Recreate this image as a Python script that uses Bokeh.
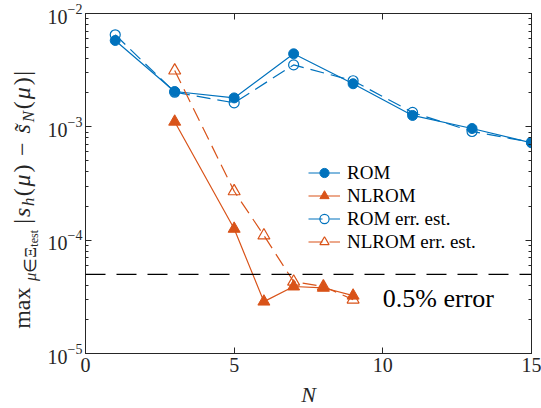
import math
from bokeh.plotting import figure
from bokeh.layouts import row, column
from bokeh.models import (LinearAxis, LogAxis, Label, Legend, LegendItem, Span,
                          FixedTicker, CustomJSTickFormatter, LogTicker)
from bokeh.embed import file_html
from bokeh.resources import INLINE

# ---------------- data ----------------
N_rom = [1, 3, 5, 7, 9, 11, 13, 15]
rom = [5.78e-3, 2.05e-3, 1.80e-3, 4.41e-3, 2.40e-3, 1.26e-3, 9.66e-4, 7.23e-4]
rom_est = [6.49e-3, 2.02e-3, 1.63e-3, 3.52e-3, 2.55e-3, 1.34e-3, 9.10e-4, 7.30e-4]
N_nl = [3, 5, 6, 7, 8, 9]
nlrom = [1.11e-3, 1.26e-4, 2.87e-5, 3.90e-5, 3.80e-5, 3.24e-5]
nlrom_est = [3.14e-3, 2.70e-4, 1.10e-4, 4.30e-5, 3.90e-5, 2.99e-5]
tol = 5e-5
tol_text = "0.5% error"
x_ticks = [0, 5, 10, 15]
legend_labels = ["ROM", "NLROM", "ROM err. est.", "NLROM err. est."]
x_label = "N"

BLUE = "#0072BD"
ORANGE = "#D95319"
AX = "#262626"
FONT = "Liberation Serif"

W, H = 541, 408
H_TOP = 380                     # height of the row holding the axes
LAB_W = 42                      # width of the strip holding the y-axis label
FL, FR, FT, FB = 85, 531, 13, 353   # frame geometry in page px

# ---------------- main figure ----------------
p = figure(width=W - LAB_W, height=H_TOP, x_range=(0, 15), y_range=(1e-5, 1e-2),
           y_axis_type="log", output_backend="svg", toolbar_location=None,
           min_border_left=FL - LAB_W, min_border_right=W - FR,
           min_border_top=FT, min_border_bottom=H_TOP - FB)
p.grid.visible = False
p.outline_line_color = AX
p.outline_line_width = 1
p.background_fill_color = "white"
p.border_fill_color = "white"

xa = p.xaxis[0]
ya = p.yaxis[0]
xa.ticker = FixedTicker(ticks=x_ticks)
ya.ticker = LogTicker(num_minor_ticks=10)
for ax in (xa, ya):
    ax.axis_line_color = AX
    ax.major_tick_line_color = AX
    ax.minor_tick_line_color = AX
    ax.major_tick_in = 6
    ax.major_tick_out = 0
    ax.minor_tick_in = 3
    ax.minor_tick_out = 0
    ax.major_label_text_font = FONT
    ax.major_label_text_font_size = "20px"
    ax.major_label_text_color = AX
xa.minor_tick_line_color = None
xa.major_label_standoff = 4
ya.major_label_standoff = 3

blank = CustomJSTickFormatter(code="return ''")
top = LinearAxis(ticker=FixedTicker(ticks=x_ticks), formatter=blank,
                 major_tick_in=6, major_tick_out=0, minor_tick_line_color=None,
                 axis_line_color=AX, major_tick_line_color=AX,
                 major_label_standoff=0, major_label_text_font_size="1px")
right = LogAxis(ticker=LogTicker(num_minor_ticks=10), formatter=blank,
                major_tick_in=6, major_tick_out=0, minor_tick_in=3, minor_tick_out=0,
                axis_line_color=AX, major_tick_line_color=AX, minor_tick_line_color=AX,
                major_label_standoff=0, major_label_text_font_size="1px")
p.add_layout(top, "above")
p.add_layout(right, "right")

p.add_layout(Span(location=tol, dimension="width", line_color="black",
                  line_dash="20 11", line_width=1.3))

LW = 1.2
r_rom_l = p.line(N_rom, rom, line_color=BLUE, line_width=LW)
r_rom_s = p.scatter(N_rom, rom, marker="circle", size=10, fill_color=BLUE, line_color=BLUE)
r_nl_l = p.line(N_nl, nlrom, line_color=ORANGE, line_width=LW)
r_nl_s = p.scatter(N_nl, nlrom, marker="triangle", size=12, fill_color=ORANGE, line_color=ORANGE)
r_re_l = p.line(N_rom, rom_est, line_color=BLUE, line_width=LW, line_dash="14 7")
r_re_s = p.scatter(N_rom, rom_est, marker="circle", size=10, fill_color=None,
                   line_color=BLUE, line_width=LW)
r_ne_l = p.line(N_nl, nlrom_est, line_color=ORANGE, line_width=LW, line_dash="14 7")
r_ne_s = p.scatter(N_nl, nlrom_est, marker="triangle", size=12, fill_color=None,
                   line_color=ORANGE, line_width=LW)

legend = Legend(items=[
    LegendItem(label=legend_labels[0], renderers=[r_rom_l, r_rom_s]),
    LegendItem(label=legend_labels[1], renderers=[r_nl_l, r_nl_s]),
    LegendItem(label=legend_labels[2], renderers=[r_re_l, r_re_s]),
    LegendItem(label=legend_labels[3], renderers=[r_ne_l, r_ne_s]),
], location=(308 - FL, FB - 253), label_text_font=FONT, label_text_font_size="19px",
   label_text_color="black", glyph_width=32, glyph_height=23, label_height=23,
   label_standoff=7, spacing=0, padding=0, margin=0, border_line_color=None,
   background_fill_alpha=0)
p.add_layout(legend)

p.add_layout(Label(x=10.0, y=3.05e-5, text=tol_text, text_font=FONT, text_font_size="26px",
                   text_color="black", text_baseline="middle", text_align="left"))


def strip(width, height):
    f = figure(width=width, height=height, x_range=(0, 1), y_range=(0, 1),
               x_axis_location=None, y_axis_location=None, output_backend="svg",
               toolbar_location=None, min_border=0)
    f.grid.visible = False
    f.outline_line_color = None
    f.background_fill_color = "white"
    f.border_fill_color = "white"
    return f


# ---------------- y-axis label strip ----------------
q = strip(LAB_W, H_TOP)
F = 24
XB = 30     # x of main baseline within the strip
MID = 0.34  # middle of the text box above the baseline, in em
DY = 41     # measured vertical correction of rotated labels
pieces = [  # (text, size scale, italic, baseline shift em, slot width em, gap after em)
    ("max", 1.0, False, 0.0, 1.861, 0.167),
    ("\u03bc", 0.7, True, 0.22, 0.422, 0.0),
    ("\u2208\u039e", 0.7, False, 0.22, 0.986, 0.0),
    ("test", 0.5, False, 0.30, 0.808, 0.167),
    ("|", 1.0, False, 0.0, 0.278, 0.0),
    ("s", 1.0, True, 0.0, 0.469, 0.0),
    ("h", 0.7, True, 0.15, 0.403, 0.0),
    ("(", 1.0, False, 0.0, 0.389, 0.0),
    ("\u03bc", 1.0, True, 0.0, 0.603, 0.0),
    (")", 1.0, False, 0.0, 0.389, 0.222),
    ("\u2212", 1.0, False, 0.0, 0.778, 0.222),
    ("s\u0303", 1.0, True, 0.0, 0.469, 0.0),
    ("N", 0.7, True, 0.15, 0.562, 0.0),
    ("(", 1.0, False, 0.0, 0.389, 0.0),
    ("\u03bc", 1.0, True, 0.0, 0.603, 0.0),
    (")", 1.0, False, 0.0, 0.389, 0.0),
    ("|", 1.0, False, 0.0, 0.278, 0.0),
]
ycur = 316.0
for txt, sc, it, sh, wd, gap in pieces:
    size = F * sc
    cy = ycur - wd * F / 2 + DY
    cx = XB + sh * F - MID * size
    q.add_layout(Label(x=cx, y=H_TOP - cy, x_units="screen", y_units="screen",
                       text=txt, angle=math.pi / 2, text_align="center",
                       text_baseline="middle", text_font=FONT,
                       text_font_style="italic" if it else "normal",
                       text_font_size=f"{size:.1f}px", text_color=AX))
    ycur -= (wd + gap) * F

# ---------------- x-axis label strip ----------------
b = strip(W, H - H_TOP)
b.add_layout(Label(x=308, y=2, x_units="screen", y_units="screen",
                   text=x_label, text_font=FONT, text_font_style="italic",
                   text_font_size="22px", text_color=AX, text_align="center",
                   text_baseline="bottom"))

layout = column(row(q, p, spacing=0), b, spacing=0)
open("out.html", "w").write(file_html(layout, INLINE))
